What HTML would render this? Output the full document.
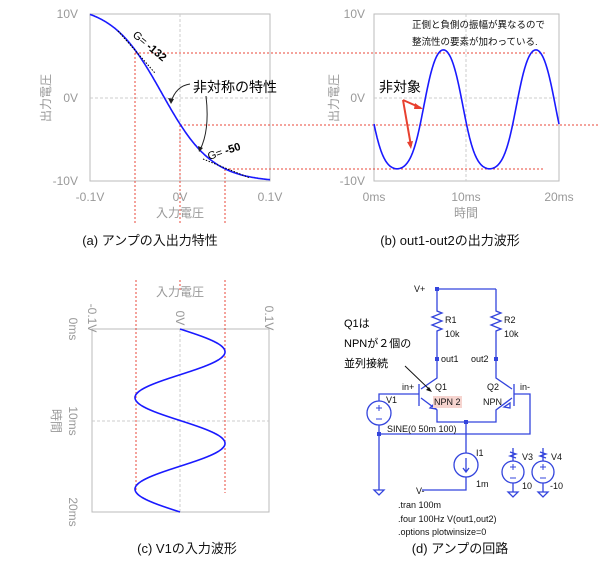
<!DOCTYPE html>
<html><head><meta charset="utf-8"><style>
body{margin:0;background:#fff;width:600px;height:566px;overflow:hidden}
svg{font-family:"Liberation Sans","Noto Sans CJK JP",sans-serif}
.ax{fill:#999;font-size:12px}
.cap{fill:#111;font-size:13px}
.ck{fill:#111;font-size:9px}
</style></head><body>
<svg id="s" width="600" height="566" viewBox="0 0 600 566" xmlns="http://www.w3.org/2000/svg">
<g stroke="#bbb" fill="none" stroke-width="1">
<rect x="90" y="14" width="180" height="167"/>
<rect x="374" y="14" width="185" height="167"/>
<rect x="92" y="329" width="177" height="183"/>
</g>
<g stroke="#ccc" stroke-dasharray="3,2" stroke-width="1">
<line x1="90" y1="98" x2="270" y2="98"/><line x1="180" y1="14" x2="180" y2="181"/>
<line x1="374" y1="98" x2="559" y2="98"/><line x1="466" y1="14" x2="466" y2="181"/>
<line x1="92" y1="421" x2="269" y2="421"/><line x1="180" y1="329" x2="180" y2="512"/>
</g>
<g stroke="#e8473a" stroke-dasharray="2,2" stroke-width="1">
<line x1="135" y1="53" x2="545" y2="53"/>
<line x1="180" y1="125" x2="600" y2="125"/>
<line x1="225" y1="169" x2="545" y2="169"/>
<line x1="135" y1="53" x2="135" y2="223"/>
<line x1="180" y1="125" x2="180" y2="223"/>
<line x1="225" y1="169" x2="225" y2="223"/>
<line x1="136" y1="280" x2="136" y2="493"/>
<line x1="225" y1="280" x2="225" y2="493"/>
<line x1="180" y1="280" x2="180" y2="290"/>
</g>
<path id="ca" fill="none" stroke="#1a1aff" stroke-width="1.6"/>
<path id="cb" fill="none" stroke="#1a1aff" stroke-width="1.6"/>
<path id="cc" fill="none" stroke="#1a1aff" stroke-width="1.6"/>
<g stroke="#000" stroke-dasharray="1.5,1.5" stroke-width="1">
<line x1="118" y1="31" x2="155" y2="73"/>
<line x1="203" y1="159" x2="250" y2="178"/>
</g>
<text transform="translate(132,36) rotate(40)" font-size="11" fill="#000">G= <tspan font-weight="bold">-132</tspan></text>
<text transform="translate(209,160) rotate(-18)" font-size="11" fill="#000">G= <tspan font-weight="bold">-50</tspan></text>
<text x="193" y="92" font-size="14" fill="#000">非対称の特性</text>
<g fill="none" stroke="#222" stroke-width="1">
<path d="M190 84 Q176 86 171 102"/><path d="M206 96 Q210 130 200 150"/>
</g>
<path d="M171 104 l-3 -6 l6 1z M199 152 l-1 -6 l5 2z" fill="#222"/>
<g class="ax">
<text x="78" y="18" text-anchor="end">10V</text>
<text x="78" y="102" text-anchor="end">0V</text>
<text x="78" y="185" text-anchor="end">-10V</text>
<text x="90" y="201" text-anchor="middle">-0.1V</text>
<text x="180" y="201" text-anchor="middle">0V</text>
<text x="270" y="201" text-anchor="middle">0.1V</text>
<text x="180" y="217" text-anchor="middle">入力電圧</text>
<text transform="translate(50,98) rotate(-90)" text-anchor="middle">出力電圧</text>
<text x="365" y="18" text-anchor="end">10V</text>
<text x="365" y="102" text-anchor="end">0V</text>
<text x="365" y="185" text-anchor="end">-10V</text>
<text x="374" y="201" text-anchor="middle">0ms</text>
<text x="466" y="201" text-anchor="middle">10ms</text>
<text x="559" y="201" text-anchor="middle">20ms</text>
<text x="466" y="217" text-anchor="middle">時間</text>
<text transform="translate(338,98) rotate(-90)" text-anchor="middle">出力電圧</text>
<text transform="translate(88,318) rotate(90)" text-anchor="middle">-0.1V</text>
<text transform="translate(176,318) rotate(90)" text-anchor="middle">0V</text>
<text transform="translate(265,318) rotate(90)" text-anchor="middle">0.1V</text>
<text x="180" y="296" text-anchor="middle">入力電圧</text>
<text transform="translate(69,329) rotate(90)" text-anchor="middle">0ms</text>
<text transform="translate(69,421) rotate(90)" text-anchor="middle">10ms</text>
<text transform="translate(69,512) rotate(90)" text-anchor="middle">20ms</text>
<text transform="translate(52,421) rotate(90)" text-anchor="middle">時間</text>
</g>
<text x="412" y="28" font-size="9.5" fill="#111">正側と負側の振幅が異なるので</text>
<text x="412" y="45" font-size="9.5" fill="#111">整流性の要素が加わっている.</text>
<text x="379" y="92" font-size="14" fill="#000">非対象</text>
<g stroke="#e8402f" stroke-width="2" fill="none">
<path d="M403 100 L421 108"/><path d="M403 100 L411 146"/>
</g>
<path d="M423 109 l-8 -6 l-1 6z M411 149 l-4 -7 l6 -1z" fill="#e8402f"/>
<text class="cap" x="150" y="245" text-anchor="middle">(a) アンプの入出力特性</text>
<text class="cap" x="450" y="245" text-anchor="middle">(b) out1-out2の出力波形</text>
<text class="cap" x="187" y="553" text-anchor="middle">(c) V1の入力波形</text>
<text class="cap" x="460" y="553" text-anchor="middle">(d) アンプの回路</text>
<g stroke="#3344dd" stroke-width="1.3" fill="none">
<path d="M437 289 H496"/>
<path d="M437 289 V311 l5 2 l-10 4 l10 4 l-10 4 l10 4 l-5 2 V378 L421 389"/>
<path d="M496 289 V311 l5 2 l-10 4 l10 4 l-10 4 l10 4 l-5 2 V378 L512 389"/>
<path d="M419 384 V406 M514 384 V406"/>
<path d="M421 398 L437 410 V422 H496 V410 L512 398"/>
<path d="M419 394 H379 V401 M379 425 V434 H530 V394 H514"/>
<path d="M379 434 V490"/>
<path d="M466 422 V453 M466 477 V490 H422"/>
<circle cx="379" cy="413" r="12"/><circle cx="466" cy="465" r="12"/>
<circle cx="513" cy="472" r="11"/><circle cx="543" cy="472" r="11"/>
<path d="M513 461 V448 M543 461 V448 M513 483 V492 M543 483 V492"/>
<path d="M374 490 h10 l-5 5z M508 492 h10 l-5 5z M538 492 h10 l-5 5z"/>
<path d="M466 458 V472 M463 468 l3 4 l3 -4"/>
<path d="M510 452 l6 2 l-6 2 l6 2 M540 452 l6 2 l-6 2 l6 2"/>
<path d="M430 408 l6 1 l-2 -5z M504 407 l6 -4 l0 5z"/>
</g>
<g fill="#3344dd"><rect x="435" y="287" width="4" height="4"/><rect x="435" y="357" width="4" height="4"/><rect x="494" y="357" width="4" height="4"/><rect x="464" y="420" width="4" height="4"/><rect x="377" y="432" width="4" height="4"/></g>
<g stroke="#3344dd" fill="none" stroke-width="1">
<path d="M376 408 h6 M379 405 v6 M376 419 h6 M510 467 h6 M513 464 v6 M510 478 h6 M540 467 h6 M543 464 v6 M540 478 h6"/>
</g>
<rect x="433" y="396" width="29" height="12" fill="#f6d4cf"/>
<g class="ck">
<text x="414" y="292">V+</text>
<text x="445" y="323">R1</text><text x="445" y="337">10k</text>
<text x="504" y="323">R2</text><text x="504" y="337">10k</text>
<text x="441" y="362">out1</text><text x="471" y="362">out2</text>
<text x="402" y="390">in+</text><text x="435" y="390">Q1</text><text x="434" y="405">NPN 2</text>
<text x="487" y="390">Q2</text><text x="483" y="405">NPN</text><text x="520" y="390">in-</text>
<text x="386" y="403">V1</text><text x="387" y="432">SINE(0 50m 100)</text>
<text x="476" y="456">I1</text><text x="476" y="487">1m</text>
<text x="522" y="460">V3</text><text x="522" y="489">10</text>
<text x="551" y="460">V4</text><text x="550" y="489">-10</text>
<text x="416" y="494">V-</text>
<text x="398" y="508">.tran 100m</text>
<text x="398" y="522">.four 100Hz V(out1,out2)</text>
<text x="398" y="535">.options plotwinsize=0</text>
</g>
<g font-size="11" fill="#000">
<text x="344" y="327">Q1は</text><text x="344" y="347">NPNが２個の</text><text x="344" y="367">並列接続</text>
</g>
<path d="M405 366 L430 390" stroke="#111" stroke-width="1"/><path d="M432 392 l-6 -2 l3 -3z" fill="#111"/>
</svg>
<script>
function f(x){return 93.5+88.5*Math.tanh((x-162)/50);}
var d='';for(var x=90;x<=270;x+=1){d+=(d?' L':'M')+x+' '+f(x).toFixed(1);}
document.getElementById('ca').setAttribute('d',d);
d='';for(var x=374;x<=559;x+=0.5){var y=f(180+45*Math.sin(2*Math.PI*(x-374)/92.5));d+=(d?' L':'M')+x+' '+y.toFixed(1);}
document.getElementById('cb').setAttribute('d',d);
d='';for(var y=329;y<=512;y+=0.5){var xx=180+45*Math.sin(2*Math.PI*(y-329)/91.5);d+=(d?' L':'M')+xx.toFixed(1)+' '+y;}
document.getElementById('cc').setAttribute('d',d);
</script>
</body></html>
